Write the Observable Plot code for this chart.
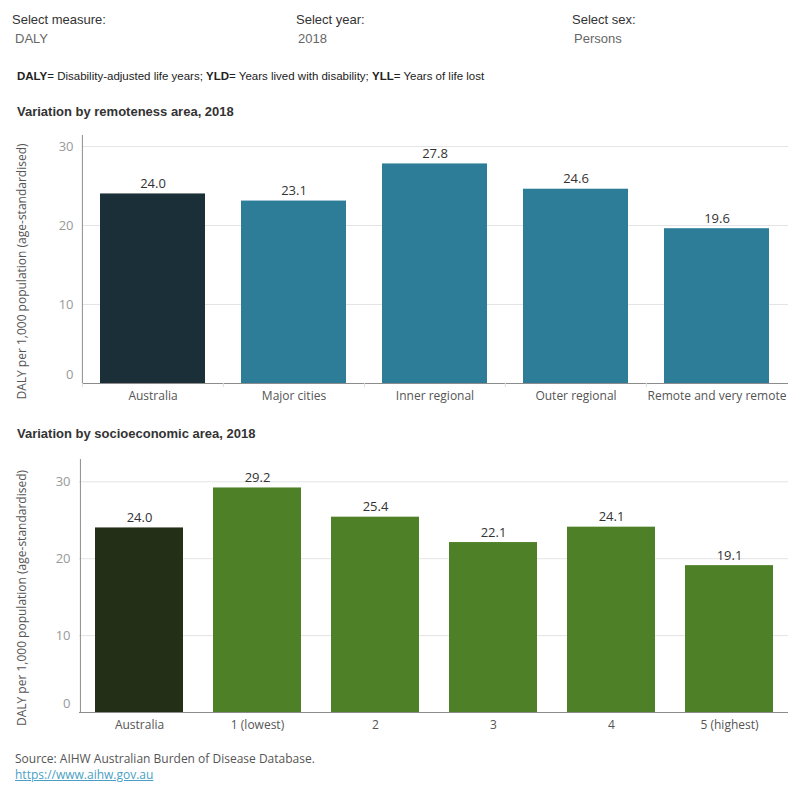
<!DOCTYPE html>
<html>
<head>
<meta charset="utf-8">
<script src="https://cdn.jsdelivr.net/npm/d3@7"></script>
<script src="https://cdn.jsdelivr.net/npm/@observablehq/plot@0.6"></script>
<style>
  html, body { margin: 0; padding: 0; background: #fff; }
  #page { position: relative; width: 800px; height: 800px; overflow: hidden; font-family: "Liberation Sans Narrow", "Arial Narrow", "Liberation Sans", sans-serif; }
  .abs { position: absolute; white-space: nowrap; }
  .sel-label { font-size: 13px; color: #333; }
  .sel-value { font-size: 13px; color: #666; }
  .defs { font-size: 11.5px; color: #222; }
  .title { font-size: 13px; font-weight: bold; color: #333; }
  .foot { font-family: "Open Sans", "Noto Sans", sans-serif; font-size: 12px; color: #555; }
  .foot a { color: #4a9fc5; text-decoration: underline; }
  .chart { position: absolute; left: 0; }
  .chart svg { overflow: visible; }
</style>
</head>
<body>
<div id="page">
  <div class="abs sel-label" style="left:12px; top:12px;">Select measure:</div>
  <div class="abs sel-value" style="left:15px; top:31px;">DALY</div>
  <div class="abs sel-label" style="left:296px; top:12px;">Select year:</div>
  <div class="abs sel-value" style="left:298px; top:31px;">2018</div>
  <div class="abs sel-label" style="left:572px; top:12px;">Select sex:</div>
  <div class="abs sel-value" style="left:574px; top:31px;">Persons</div>
  <div class="abs defs" style="left:17px; top:70px;"><b>DALY</b>= Disability-adjusted life years; <b>YLD</b>= Years lived with disability; <b>YLL</b>= Years of life lost</div>
  <div class="abs title" style="left:17px; top:104px;">Variation by remoteness area, 2018</div>
  <div id="chart1" class="chart" style="top:128px;"></div>
  <div class="abs title" style="left:17px; top:426px;">Variation by socioeconomic area, 2018</div>
  <div id="chart2" class="chart" style="top:450px;"></div>
  <div class="abs foot" style="left:15px; top:750px;">Source: AIHW Australian Burden of Disease Database.</div>
  <div class="abs foot" style="left:15px; top:766px;"><a href="https://www.aihw.gov.au">https://www.aihw.gov.au</a></div>
</div>
<script>
// DALY per 1,000 population (age-standardised), persons, 2018
const remotenessAreas = ["Australia", "Major cities", "Inner regional", "Outer regional", "Remote and very remote"];
const remotenessValues = [24.0, 23.1, 27.8, 24.6, 19.6];

const socioAreas = ["Australia", "1 (lowest)", "2", "3", "4", "5 (highest)"];
const socioValues = [24.0, 29.2, 25.4, 22.1, 24.1, 19.1];

const yTicks = [0, 10, 20, 30];
const yTitle = "DALY per 1,000 population (age-standardised)";

const chartFont = "'Open Sans', 'Noto Sans', sans-serif";

function barChart({areas, values, colors, yMax, width, height, marginLeft, marginRight, marginTop, marginBottom, boundaryTicks}) {
  const data = areas.map((area, i) => ({area, value: values[i]}));
  const step = (width - marginLeft - marginRight) / areas.length;
  const tickStyle = {tickSize: 0, tickPadding: 9, fill: "#999", fontSize: 13, label: null};
  const marks = [
    Plot.gridY(yTicks.filter(t => t > 0), {stroke: "#e4e4e4", strokeOpacity: 1}),
    Plot.barY(data, {x: "area", y: "value", fill: d => d.area === "Australia" ? colors[0] : colors[1]}),
    Plot.text(data, {x: "area", y: "value", text: d => d.value.toFixed(1), dy: -10, fill: "#333", fontSize: 13}),
    // tick labels above zero sit on their gridlines; the zero label is lifted off the baseline
    Plot.axisY({...tickStyle, ticks: yTicks.filter(t => t > 0)}),
    Plot.axisY({...tickStyle, ticks: [0], dy: -9}),
    // rotated axis title, centred on the pane including the category labels
    Plot.text([yTitle], {frameAnchor: "left", rotate: -90, dx: 22 - marginLeft, dy: 12,
      textAnchor: "middle", lineAnchor: "middle", fill: "#555", fontSize: 12}),
    Plot.axisX({tickSize: 0, tickPadding: 8, fill: "#555", fontSize: 12, label: null}),
    Plot.ruleX(areas.slice(0, 1), {dx: -step / 2, stroke: "#8c8c8c"}),
    Plot.ruleY([0], {stroke: "#8c8c8c"})
  ];
  if (boundaryTicks) {
    marks.push(Plot.axisX({tickSize: 4, tickFormat: () => "", stroke: "#ddd", dx: -step / 2, label: null}));
  }
  return Plot.plot({
    width, height, marginLeft, marginRight, marginTop, marginBottom,
    style: {fontFamily: chartFont, fontSize: "12px", color: "#555", background: "transparent", overflow: "visible"},
    x: {domain: areas, paddingInner: 0.255, paddingOuter: 0.1275, align: 0.5, label: null},
    y: {domain: [0, yMax], label: null},
    marks
  });
}

document.getElementById("chart1").append(barChart({
  areas: remotenessAreas, values: remotenessValues,
  colors: ["#1b2f38", "#2e7d98"], yMax: 31.4,
  width: 800, height: 285, marginLeft: 82, marginRight: 12, marginTop: 7, marginBottom: 30,
  boundaryTicks: true
}));

document.getElementById("chart2").append(barChart({
  areas: socioAreas, values: socioValues,
  colors: ["#232f17", "#4e8127"], yMax: 32.9,
  width: 800, height: 290, marginLeft: 79, marginRight: 12, marginTop: 9, marginBottom: 28,
  boundaryTicks: false
}));
</script>
</body>
</html>
